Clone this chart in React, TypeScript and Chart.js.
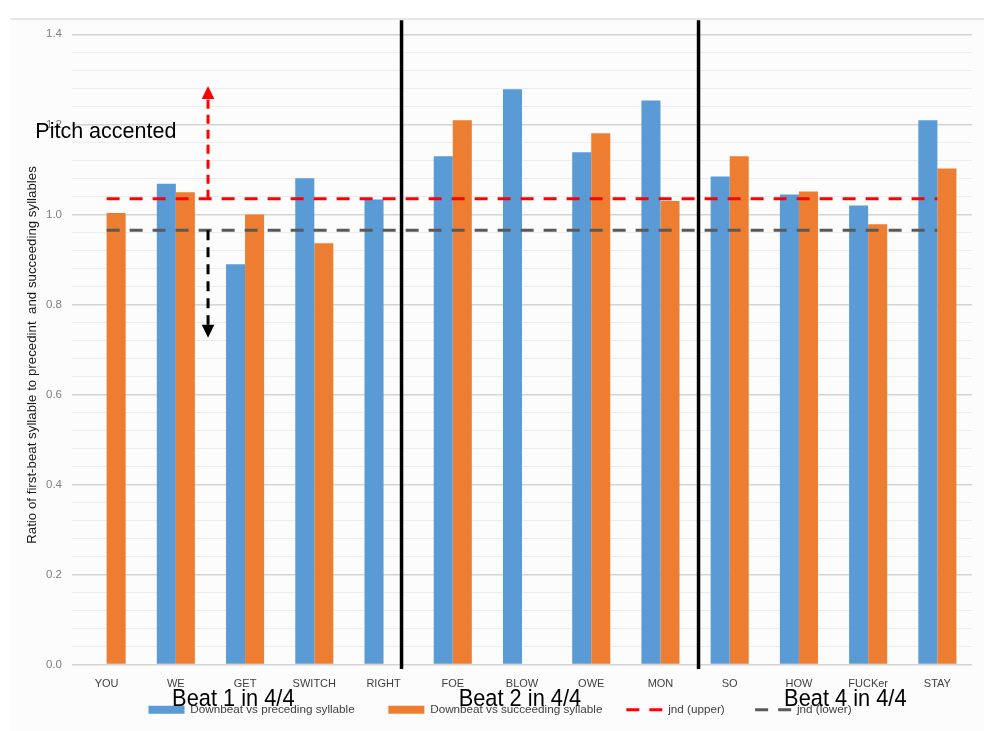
import React, { useEffect, useRef } from "react";
import { Chart, registerables } from "chart.js";

Chart.register(...registerables);

// ---- data ----
const categories = ["YOU", "WE", "GET", "SWITCH", "RIGHT", "FOE", "BLOW", "OWE", "MON", "SO", "HOW", "FUCKer", "STAY"];
const precedingValues = [null, 1.068, 0.889, 1.08, 1.033, 1.129, 1.278, 1.138, 1.253, 1.084, 1.044, 1.02, 1.209];
const succeedingValues = [1.003, 1.049, 1.0, 0.936, null, 1.209, null, 1.18, 1.03, 1.129, 1.051, 0.978, 1.102];
const jndUpperValues = [1.035, 1.035, 1.035, 1.035, 1.035, 1.035, 1.035, 1.035, 1.035, 1.035, 1.035, 1.035, 1.035];
const jndLowerValues = [0.965, 0.965, 0.965, 0.965, 0.965, 0.965, 0.965, 0.965, 0.965, 0.965, 0.965, 0.965, 0.965];
const seriesLabels = ["Downbeat vs preceding syllable", "Downbeat vs succeeding syllable", "jnd (upper)", "jnd (lower)"];
const yAxisTitle = "Ratio of first-beat syllable to precedint  and succeeding syllables";

// annotations (in data units: category index / value)
const beatLabels = ["Beat 1 in 4/4", "Beat 2 in 4/4", "Beat 4 in 4/4"];
const beatLabelPositions = [1.83, 5.97, 10.67];
const dividerPositions = [4.26, 8.55];
const arrowPosition = 1.465;
const arrowUpTip = 1.285;
const arrowDownTip = 0.726;
const noteText = "Pitch accented";
const notePosition = -1.03;
const noteValue = 1.182;

const BLUE = "#5B9BD5";
const ORANGE = "#ED7D31";
const RED = "#FF0000";
const GRAY = "#595959";
const FONT = "'Liberation Sans', Arial, sans-serif";

// extra spacing after each legend entry (legend gap widening)
const legendTrailingSpaces = [6, 3, 5, 0];

const isMajor = (v: number) => Math.abs(v / 0.2 - Math.round(v / 0.2)) < 1e-6;

function drawArrow(ctx: CanvasRenderingContext2D, px: number, y0: number, yTip: number, color: string, dash: number[]) {
  const dir = Math.sign(yTip - y0);
  const headLen = 13;
  const halfW = 6.3;
  ctx.save();
  ctx.strokeStyle = color;
  ctx.fillStyle = color;
  ctx.lineWidth = 3;
  ctx.setLineDash(dash);
  ctx.beginPath();
  ctx.moveTo(px, y0);
  ctx.lineTo(px, yTip - dir * headLen);
  ctx.stroke();
  ctx.setLineDash([]);
  ctx.beginPath();
  ctx.moveTo(px, yTip);
  ctx.lineTo(px - halfW, yTip - dir * headLen);
  ctx.lineTo(px + halfW, yTip - dir * headLen);
  ctx.closePath();
  ctx.fill();
  ctx.restore();
}

const annotationPlugin = {
  id: "annotations",
  beforeDraw(chart: any) {
    const { ctx, chartArea } = chart;
    const left = chartArea.left - 62;
    const top = chartArea.top - 15.3;
    const right = chartArea.right + 12;
    ctx.save();
    ctx.fillStyle = "#fcfcfc";
    ctx.fillRect(left, top, right - left, chart.height - top);
    ctx.strokeStyle = "#cfcfcf";
    ctx.lineWidth = 1.2;
    ctx.beginPath();
    ctx.moveTo(left, top);
    ctx.lineTo(right, top);
    ctx.stroke();
    ctx.restore();
  },
  afterDatasetsDraw(chart: any) {
    const { ctx, chartArea } = chart;
    const x = chart.scales.x;
    const y = chart.scales.y;
    ctx.save();
    ctx.strokeStyle = "#000";
    ctx.lineWidth = 3.5;
    dividerPositions.forEach((p) => {
      const px = x.getPixelForValue(p);
      ctx.beginPath();
      ctx.moveTo(px, chartArea.top - 14);
      ctx.lineTo(px, chartArea.bottom + 4.5);
      ctx.stroke();
    });
    ctx.restore();

    const ax = x.getPixelForValue(arrowPosition);
    drawArrow(ctx, ax, y.getPixelForValue(jndUpperValues[0]), y.getPixelForValue(arrowUpTip), RED, [9, 6]);
    drawArrow(ctx, ax, y.getPixelForValue(jndLowerValues[0]), y.getPixelForValue(arrowDownTip), "#000", [10, 7]);

    ctx.save();
    ctx.fillStyle = "#000";
    ctx.font = `21.5px ${FONT}`;
    ctx.textAlign = "left";
    ctx.textBaseline = "middle";
    ctx.fillText(noteText, x.getPixelForValue(notePosition), y.getPixelForValue(noteValue));

    ctx.font = `24.5px ${FONT}`;
    ctx.textAlign = "center";
    beatLabels.forEach((t, i) => {
      const px = x.getPixelForValue(beatLabelPositions[i]);
      const py = chartArea.bottom + 34.5;
      ctx.save();
      ctx.translate(px, py);
      ctx.scale(0.89, 1);
      ctx.fillText(t, 0, 0);
      ctx.restore();
    });
    ctx.restore();
  },
};

export default function App() {
  const canvasRef = useRef<HTMLCanvasElement | null>(null);

  useEffect(() => {
    if (!canvasRef.current) return;
    Chart.defaults.font.family = FONT;
    const chart = new Chart(canvasRef.current, {
      type: "bar",
      data: {
        labels: categories,
        datasets: [
          {
            type: "bar",
            label: seriesLabels[0],
            data: precedingValues,
            backgroundColor: BLUE,
            borderWidth: 0,
            order: 1,
            categoryPercentage: 0.55,
            barPercentage: 1,
          },
          {
            type: "bar",
            label: seriesLabels[1],
            data: succeedingValues,
            backgroundColor: ORANGE,
            borderWidth: 0,
            order: 1,
            categoryPercentage: 0.55,
            barPercentage: 1,
          },
          {
            type: "line",
            label: seriesLabels[2],
            data: jndUpperValues,
            borderColor: RED,
            backgroundColor: RED,
            borderWidth: 3,
            borderDash: [13, 10],
            pointRadius: 0,
            fill: false,
            order: 0,
          },
          {
            type: "line",
            label: seriesLabels[3],
            data: jndLowerValues,
            borderColor: GRAY,
            backgroundColor: GRAY,
            borderWidth: 3,
            borderDash: [13, 10],
            pointRadius: 0,
            fill: false,
            order: 0,
          },
        ] as any,
      },
      options: {
        animation: false,
        responsive: true,
        maintainAspectRatio: false,
        events: [],
        layout: { padding: { top: 34.3, right: 0, bottom: 5.5, left: 0 } },
        scales: {
          x: {
            grid: { display: false, drawTicks: false },
            border: { display: false },
            ticks: {
              color: "#404040",
              font: { size: 11 },
              padding: 13,
              maxRotation: 0,
              autoSkip: false,
            },
            afterFit: (s: any) => {
              s.height = 25;
            },
          },
          y: {
            min: 0,
            max: 1.4,
            border: { display: false },
            grid: {
              drawTicks: false,
              color: (c: any) => (isMajor(c.tick.value) ? "#d4d4d4" : "#ececec"),
              lineWidth: (c: any) => (isMajor(c.tick.value) ? 1.5 : 1),
            },
            ticks: {
              stepSize: 0.04,
              autoSkip: false,
              padding: 10,
              color: "#7f7f7f",
              font: { size: 11.5 },
              callback: (v: any) => (isMajor(Number(v)) ? Number(v).toFixed(1) : ""),
            },
            title: {
              display: true,
              text: yAxisTitle + "   ",
              color: "#1a1a1a",
              font: { size: 13.3 },
              padding: { top: 24, bottom: 0 },
            },
            afterFit: (s: any) => {
              s.width = 72;
            },
          },
          // empty right-hand margin axis (keeps the legend centred on the full width)
          yRightMargin: {
            type: "linear",
            position: "right",
            display: true,
            grid: { display: false, drawTicks: false },
            border: { display: false },
            ticks: { display: false },
            afterFit: (s: any) => {
              s.width = 28;
            },
          },
        } as any,
        plugins: {
          tooltip: { enabled: false },
          legend: {
            position: "bottom",
            labels: {
              color: "#404040",
              font: { size: 11.7 },
              usePointStyle: true,
              pointStyleWidth: 36,
              boxHeight: 8,
              padding: 14.2,
              generateLabels: (ch: any) => {
                const base = (Chart.defaults.plugins.legend.labels as any).generateLabels(ch);
                return base
                  .map((item: any) => {
                    const ds: any = ch.data.datasets[item.datasetIndex];
                    const text = item.text + " ".repeat(legendTrailingSpaces[item.datasetIndex] || 0);
                    if (ds.type === "line") {
                      return {
                        ...item,
                        text,
                        pointStyle: "line",
                        lineDash: ds.borderDash,
                        lineWidth: 3,
                        strokeStyle: ds.borderColor,
                        fillStyle: ds.borderColor,
                      };
                    }
                    return { ...item, text, pointStyle: "rect", lineWidth: 0 };
                  })
                  .sort((a: any, b: any) => a.datasetIndex - b.datasetIndex);
              },
            },
          },
        },
      },
      plugins: [annotationPlugin],
    });
    return () => chart.destroy();
  }, []);

  return (
    <div style={{ position: "absolute", left: 0, top: 0, width: 1000, height: 731, background: "#fff" }}>
      <canvas ref={canvasRef} />
    </div>
  );
}
